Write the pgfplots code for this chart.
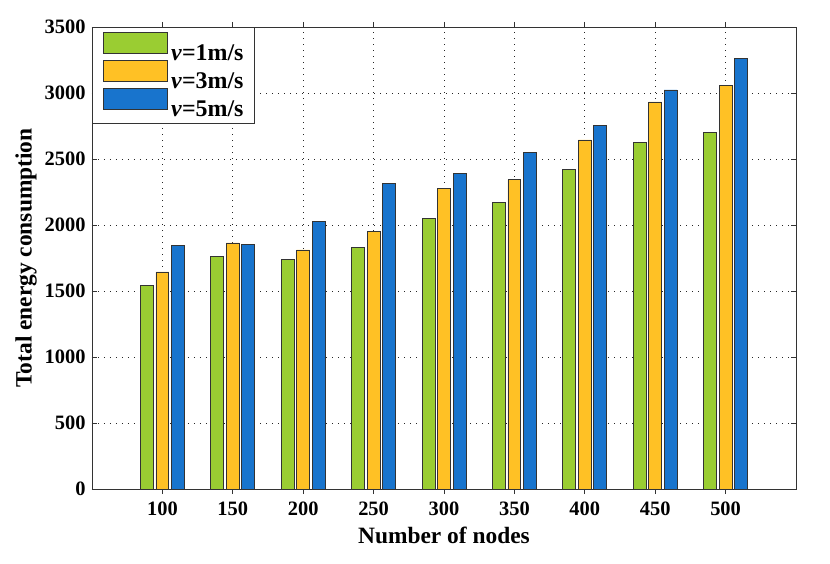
\documentclass[border=0pt]{standalone}
\usepackage{pgfplots}
\pgfplotsset{compat=1.18}
\usepackage{pgfplotstable}
\usepackage{fontspec}
\setmainfont{Liberation Serif}
\definecolor{cg}{RGB}{154,205,50}
\definecolor{cy}{RGB}{255,193,37}
\definecolor{cb}{RGB}{24,116,205}
\pgfplotstableread{
x g y b
100 1545 1644 1843
150 1765 1864 1856
200 1742 1811 2028
250 1831 1952 2316
300 2053 2278 2389
350 2172 2343 2548
400 2419 2644 2752
450 2623 2932 3023
500 2702 3058 3265
}\datatable
\begin{document}
\begin{tikzpicture}
\useasboundingbox (-92bp,-75bp) rectangle (738bp,489bp);
\begin{axis}[
  at={(0,0)}, anchor=south west,
  scale only axis, width=704bp, height=462bp,
  xmin=50, xmax=550, ymin=0, ymax=3500,
  xtick={100,150,...,500}, ytick={0,500,...,3500},
  scaled y ticks=false,
  /pgf/number format/1000 sep={},
  /pgf/number format/assume math mode=true,
  tick align=inside, major tick length=5bp,
  tick style={black!80, line width=0.8bp},
  axis line style={black!80, line width=0.8bp},
  grid=major,
  major grid style={black!85, line width=0.8bp, dash pattern=on 1bp off 5bp},
  ticklabel style={font=\fontsize{20.5}{22}\selectfont\bfseries},
  xticklabel style={yshift=-4bp},
  yticklabel style={xshift=-3bp},
  xlabel={Number of nodes},
  ylabel={Total energy consumption},
  label style={font=\fontsize{23.5}{25}\selectfont\bfseries},
  ylabel style={yshift=1bp},
  xlabel style={yshift=-5bp},
  ybar, bar width=9.2,
  every axis plot/.append style={draw=black!80, line width=0.8bp},
  legend image code/.code={\draw[#1] (0bp,-2bp) rectangle (64bp,19bp);},
  legend style={at={(0,1)}, anchor=north west, draw=black!80, line width=0.8bp,
    font=\fontsize{24}{25}\selectfont\bfseries, row sep=-2bp, column sep=3bp,
    nodes={inner sep=0pt, text height=19bp, text depth=2bp},
    inner xsep=11bp, inner ysep=5bp, cells={anchor=base west}},
  legend cell align=left,
]
\addplot[fill=cg, draw=black!80, bar shift=-11] table[x=x,y=g]{\datatable};
\addplot[fill=cy, draw=black!80, bar shift=0] table[x=x,y=y]{\datatable};
\addplot[fill=cb, draw=black!80, bar shift=11] table[x=x,y=b]{\datatable};
\legend{\textit{v}=1m/s,\textit{v}=3m/s,\textit{v}=5m/s}
\end{axis}
\end{tikzpicture}
\end{document}
